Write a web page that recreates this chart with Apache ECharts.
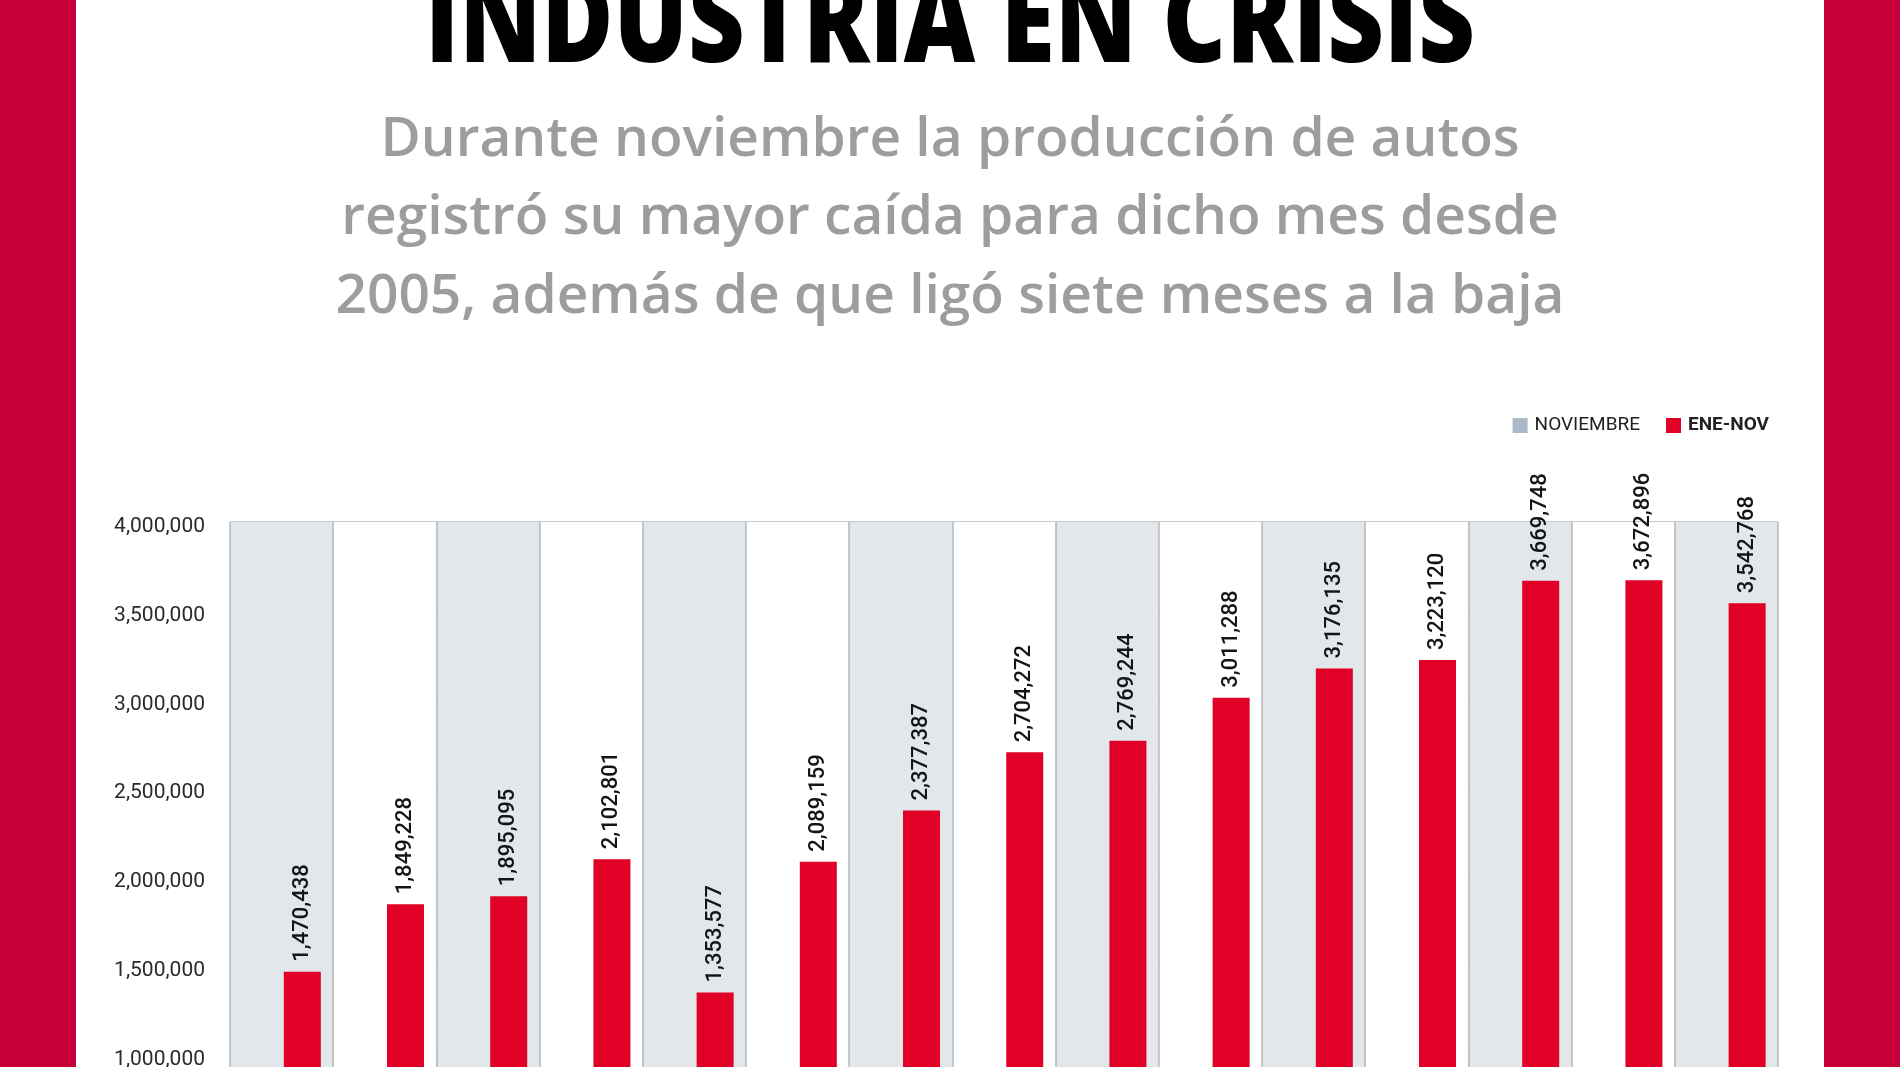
<!DOCTYPE html>
<html>
<head>
<meta charset="utf-8">
<style>
  html, body { margin: 0; padding: 0; background: #ffffff; overflow: hidden; width: 1900px; height: 1067px; }
  #chart { width: 1900px; height: 1300px; }
</style>
<script src="https://cdn.jsdelivr.net/npm/echarts@6/dist/echarts.min.js"></script>
</head>
<body>
<div id="chart"></div>
<script>
// ---- data ----
const years = ['2005','2006','2007','2008','2009','2010','2011','2012','2013','2014','2015','2016','2017','2018','2019'];
// Jan–Nov cumulative production (ENE-NOV)
const eneNov = [1470438, 1849228, 1895095, 2102801, 1353577, 2089159, 2377387, 2704272, 2769244, 3011288, 3176135, 3223120, 3669748, 3672896, 3542768];
// November-only values sit below the cropped part of the picture and cannot be read
const noviembre = [];
const yTicks = [0, 500000, 1000000, 1500000, 2000000, 2500000, 3000000, 3500000, 4000000];

const titleText = 'INDUSTRIA EN CRISIS';
const subtitleLines = [
  'Durante noviembre la producción de autos',
  'registró su mayor caída para dicho mes desde',
  '2005, además de que ligó siete meses a la baja'
];

const fmt = v => Number(v).toLocaleString('en-US');

const chart = echarts.init(document.getElementById('chart'), null, { renderer: 'canvas' });

const option = {
  backgroundColor: '#ffffff',
  animation: false,
  legend: {
    right: 126,
    top: 411,
    itemWidth: 15,
    itemHeight: 15,
    itemGap: 26,
    icon: 'rect',
    textStyle: { fontFamily: 'Roboto', fontSize: 19, color: '#222', padding: [0, 0, 0, 2] },
    data: [
      { name: 'NOVIEMBRE' },
      { name: 'ENE-NOV', textStyle: { fontWeight: 'bold' } }
    ]
  },
  grid: { left: 230, right: 122, top: 522, height: 711, containLabel: false },
  xAxis: {
    type: 'category',
    data: years,
    boundaryGap: true,
    axisLine: { show: false },
    axisTick: { show: false },
    axisLabel: { show: true, fontFamily: 'Roboto', fontSize: 18, color: '#222' },
    splitLine: { show: true, lineStyle: { color: '#b3b6b9', width: 1.5 } },
    splitArea: { show: true, areaStyle: { color: ['#e2e7ec', '#ffffff'] } }
  },
  yAxis: {
    type: 'value',
    min: yTicks[0],
    max: yTicks[yTicks.length - 1],
    interval: yTicks[1] - yTicks[0],
    axisLine: { show: false },
    axisTick: { show: false },
    axisLabel: {
      margin: 25,
      fontFamily: 'Roboto',
      fontSize: 21,
      color: '#2a2a2a',
      verticalAlign: 'top',
      lineHeight: 9,
      formatter: v => fmt(v)
    },
    splitLine: { show: true, lineStyle: { color: '#b3b6b9', width: 1.5 } }
  },
  series: [
    {
      name: 'NOVIEMBRE',
      type: 'bar',
      data: noviembre,
      barWidth: 37,
      barGap: '12%',
      itemStyle: { color: '#a9b9c7' }
    },
    {
      name: 'ENE-NOV',
      type: 'bar',
      data: eneNov,
      barWidth: 37,
      barGap: '12%',
      itemStyle: { color: '#e10026' },
      label: {
        show: true,
        position: 'top',
        distance: 10,
        rotate: 90,
        align: 'left',
        verticalAlign: 'middle',
        fontFamily: 'Roboto',
        fontSize: 22,
        fontWeight: 500,
        color: '#151515',
        formatter: p => fmt(p.value)
      }
    }
  ],
  graphic: [
    { type: 'rect', shape: { x: 0, y: 0, width: 76, height: 1300 }, style: { fill: '#c8003a' }, z: 100 },
    { type: 'rect', shape: { x: 1824, y: 0, width: 76, height: 1300 }, style: { fill: '#c8003a' }, z: 100 },
    {
      type: 'text', x: 950, y: 28, scaleX: 0.82, z: 100,
      style: { text: titleText, fontFamily: 'Open Sans', fontWeight: 800, fontSize: 120, fill: '#000', align: 'center', verticalAlign: 'middle' }
    },
    {
      type: 'text', x: 950, y: 140, z: 100,
      style: { text: subtitleLines[0], fontFamily: 'Open Sans', fontWeight: 600, fontSize: 55, fill: '#9d9d9d', align: 'center', verticalAlign: 'middle' }
    },
    {
      type: 'text', x: 950, y: 218, z: 100,
      style: { text: subtitleLines[1], fontFamily: 'Open Sans', fontWeight: 600, fontSize: 55, fill: '#9d9d9d', align: 'center', verticalAlign: 'middle' }
    },
    {
      type: 'text', x: 950, y: 297, z: 100,
      style: { text: subtitleLines[2], fontFamily: 'Open Sans', fontWeight: 600, fontSize: 55, fill: '#9d9d9d', align: 'center', verticalAlign: 'middle' }
    }
  ]
};

chart.setOption(option);
</script>
</body>
</html>
